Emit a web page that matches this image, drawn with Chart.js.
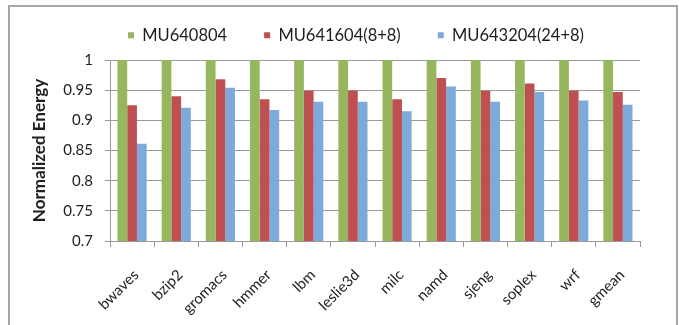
<!DOCTYPE html>
<html>
<head>
<meta charset="utf-8">
<script src="https://cdn.jsdelivr.net/npm/chart.js@4.4.1/dist/chart.umd.min.js"></script>
<style>
  html, body { margin: 0; padding: 0; background: #fff; overflow: hidden; }
  #wrap { position: relative; width: 679px; height: 325px; }
  #wrap canvas { position: absolute; left: 0; top: 0; }
  #frame { position: absolute; left: 8px; top: 5px; width: 666px; height: 400px;
           border: 2px solid #a6a6a6; pointer-events: none; }
</style>
</head>
<body>
<div id="wrap">
  <canvas id="chart" width="679" height="325"></canvas>
  <div id="frame"></div>
</div>
<script>
// Benchmarks on the x axis
const benchmarks = ['bwaves', 'bzip2', 'gromacs', 'hmmer', 'lbm', 'leslie3d',
                    'milc', 'namd', 'sjeng', 'soplex', 'wrf', 'gmean'];

// Series names
const seriesNames = ['MU640804', 'MU641604(8+8)', 'MU643204(24+8)'];

// Normalized energy per configuration
const mu640804 = [1, 1, 1, 1, 1, 1, 1, 1, 1, 1, 1, 1];
const mu641604 = [0.925, 0.940, 0.968, 0.935, 0.949, 0.949, 0.935, 0.970, 0.949, 0.961, 0.949, 0.947];
const mu643204 = [0.861, 0.921, 0.954, 0.917, 0.931, 0.931, 0.915, 0.956, 0.931, 0.947, 0.933, 0.926];

// Y axis ticks
const yTickValues = [0.7, 0.75, 0.8, 0.85, 0.9, 0.95, 1];
const yTickLabels = ['0.7', '0.75', '0.8', '0.85', '0.9', '0.95', '1'];

const seriesColors = ['#97B75F', '#BE5052', '#7DAAD9'];
const FONT = 'Lato, "Open Sans", sans-serif';
const TEXT = '#1e1e1e';
const GRID = '#9a9a9a';

// Legend: fixed band height above the plot and a shifted item row
const legendPlacement = {
  id: 'legendPlacement',
  beforeInit(chart) {
    const legend = chart.legend;
    if (!legend) return;
    const baseFit = legend.fit;
    legend.fit = function () {
      baseFit.call(this);
      this.height = 60;
    };
  },
  afterLayout(chart) {
    const legend = chart.legend;
    if (!legend) return;
    const pad = legend.options.labels.padding;
    const w = legend.right - legend.left;
    legend.left = 128 - pad;
    legend.right = legend.left + w;
    const h = legend.bottom - legend.top;
    legend.top = -10;
    legend.bottom = legend.top + h;
  }
};

new Chart(document.getElementById('chart'), {
  type: 'bar',
  data: {
    labels: benchmarks,
    datasets: [
      { label: seriesNames[0], data: mu640804, backgroundColor: seriesColors[0] },
      { label: seriesNames[1], data: mu641604, backgroundColor: seriesColors[1] },
      { label: seriesNames[2], data: mu643204, backgroundColor: seriesColors[2] }
    ]
  },
  options: {
    responsive: false,
    animation: false,
    devicePixelRatio: 1,
    layout: { padding: { left: 0, right: 39, top: 0, bottom: 0 } },
    datasets: {
      bar: { categoryPercentage: 0.66, barPercentage: 1.0, borderWidth: 0 }
    },
    plugins: {
      tooltip: { enabled: false },
      legend: {
        position: 'top',
        align: 'start',
        labels: {
          boxWidth: 6,
          boxHeight: 6,
          padding: 37,
          color: TEXT,
          font: { family: FONT, size: 16.5 }
        }
      }
    },
    scales: {
      x: {
        grid: {
          display: true,
          drawOnChartArea: false,
          drawTicks: true,
          tickLength: 6,
          color: GRID,
          offset: true
        },
        border: { display: true, color: GRID, width: 1 },
        ticks: {
          color: TEXT,
          font: { family: FONT, size: 15 },
          minRotation: 45,
          maxRotation: 45,
          autoSkip: false,
          padding: 19,
          labelOffset: 4
        },
        afterFit(scale) { scale.height = 84; }
      },
      y: {
        min: 0.7,
        max: 1,
        afterBuildTicks(scale) {
          scale.ticks = yTickValues.map(v => ({ value: v }));
        },
        ticks: {
          color: TEXT,
          font: { family: FONT, size: 15 },
          padding: 12,
          callback: (value, index) => yTickLabels[index]
        },
        grid: { color: GRID, lineWidth: 1, tickLength: 5, drawTicks: true },
        border: { display: true, color: GRID, width: 1 },
        title: {
          display: true,
          text: 'Normalized Energy',
          color: TEXT,
          font: { family: FONT, size: 17, weight: 'bold' },
          padding: { top: 29, bottom: 0 }
        },
        afterFit(scale) { scale.width = 110; }
      }
    }
  },
  plugins: [legendPlacement]
});
</script>
</body>
</html>
